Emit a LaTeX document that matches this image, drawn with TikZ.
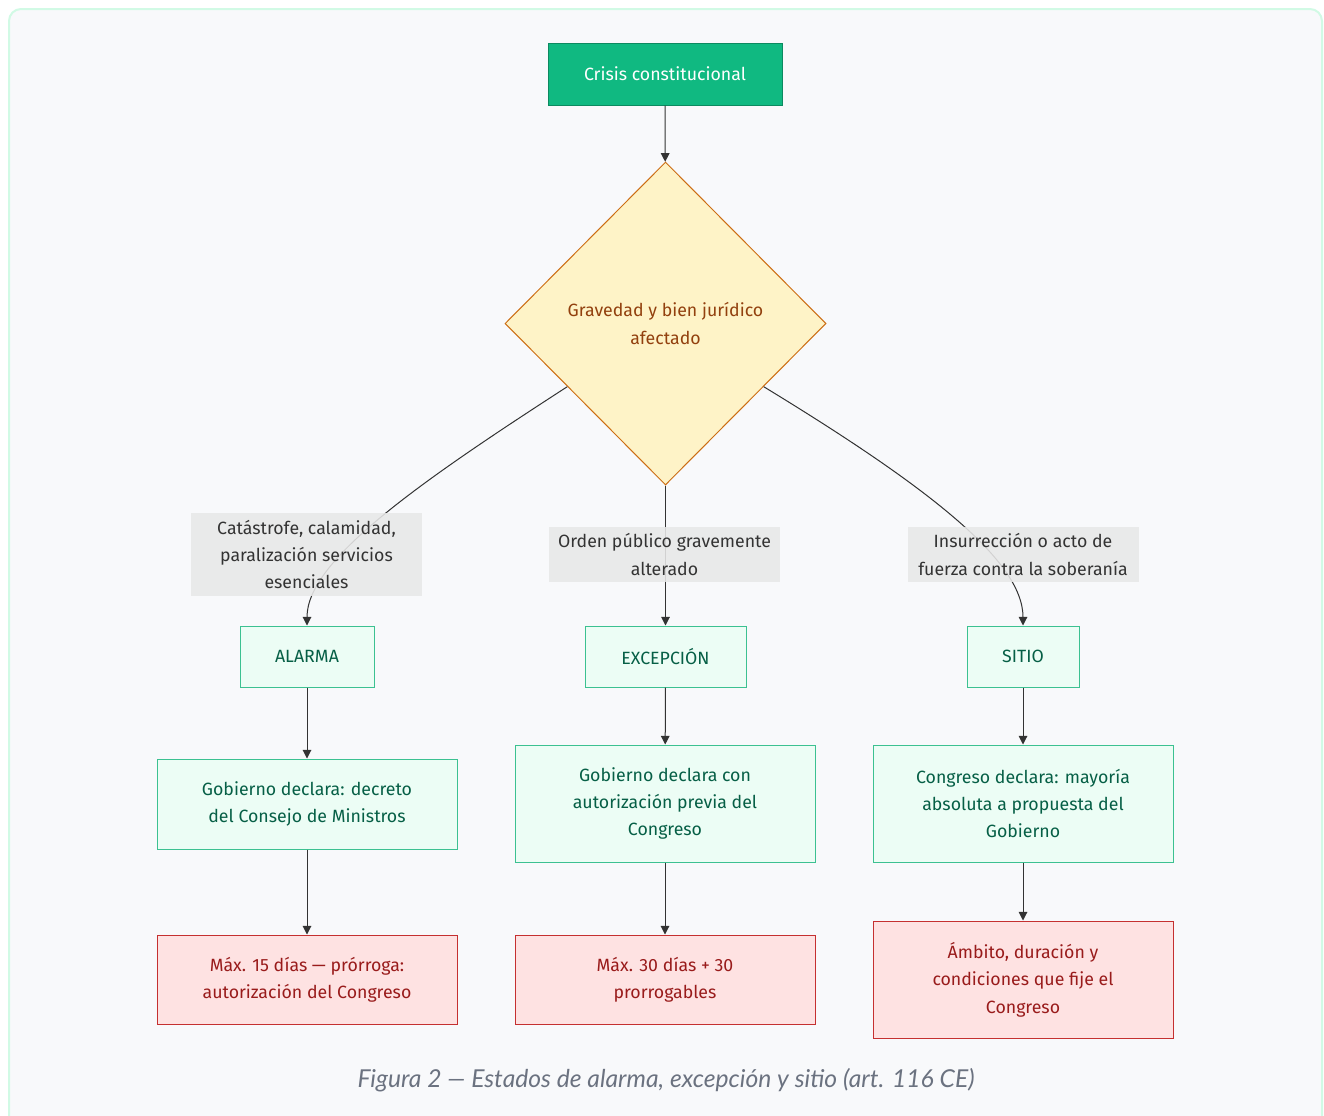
\documentclass[tikz,border=0pt]{standalone}
\usepackage{fontspec}
\setmainfont{Fira Sans}
\newfontfamily\captionfont{Lato}
\usepackage{tikz}
\usetikzlibrary{shapes,arrows.meta,positioning,calc}
\usepackage{xcolor}
\definecolor{panelgray}{RGB}{248,249,251}
\definecolor{framemint}{RGB}{209,250,229}
\definecolor{crisisgreen}{RGB}{16,185,129}
\definecolor{crisisborder}{RGB}{12,138,96}
\definecolor{decisionfill}{RGB}{254,243,199}
\definecolor{decisionborder}{RGB}{204,110,20}
\definecolor{decisiontext}{RGB}{146,64,14}
\definecolor{labelgray}{RGB}{232,232,232}
\definecolor{labeltext}{RGB}{51,51,51}
\definecolor{statefill}{RGB}{236,253,245}
\definecolor{stateborder}{RGB}{60,193,145}
\definecolor{statetext}{RGB}{6,95,70}
\definecolor{limitfill}{RGB}{254,226,226}
\definecolor{limitborder}{RGB}{197,48,48}
\definecolor{limittext}{RGB}{153,27,27}
\definecolor{edgegray}{RGB}{51,51,51}
\definecolor{captiongray}{RGB}{107,114,128}
\tikzset{
    base/.style={rectangle, draw, line width=0.75pt, align=center, inner sep=0pt, font=\fontsize{13.3}{20.5}\selectfont},
    crisis/.style={base, fill=crisisgreen, draw=crisisborder, text=white, minimum width=175.5pt, minimum height=46.5pt},
    decision/.style={diamond, draw=decisionborder, line width=0.75pt, fill=decisionfill, text=decisiontext, align=center, inner sep=0pt, minimum width=240.75pt, minimum height=242.25pt, font=\fontsize{13.3}{20.5}\selectfont},
    cause/.style={rectangle, fill=labelgray, fill opacity=0.88, text opacity=1, text=labeltext, align=center, inner sep=0pt, minimum width=173.25pt, font=\fontsize{13.3}{20.5}\selectfont},
    state/.style={base, fill=statefill, draw=stateborder, text=statetext, minimum height=45.75pt},
    declare/.style={base, fill=statefill, draw=stateborder, text=statetext, minimum width=225pt},
    limit/.style={base, fill=limitfill, draw=limitborder, text=limittext, minimum width=225pt},
    connection/.style={line width=0.75pt, draw=edgegray, -{Triangle[length=6.5pt,width=6.5pt]}}
}

\begin{document}
\begin{tikzpicture}[x=0.75pt,y=-0.75pt]
    \useasboundingbox (0,0) rectangle (1324,1115);
    % panel
    \draw[draw=framemint, fill=panelgray, line width=1.5pt, rounded corners=9pt] (9,9) rectangle (1322,1130);

    % top of the flow
    \node[crisis] (crisis) at (665,74) {Crisis constitucional};
    \node[decision] (gravedad) at (665.5,323.5) {Gravedad y bien jurídico\\afectado};
    \draw[connection] (crisis) -- (gravedad);

    % the three states
    \node[state, minimum width=100.5pt] (alarma) at (307,656.5) {ALARMA};
    \node[state, minimum width=120.75pt] (excepcion) at (665.5,656.5) {EXCEPCIÓN};
    \node[state, minimum width=84pt] (sitio) at (1023,656.5) {SITIO};

    % branches out of the diamond
    \coordinate (gl) at ($(gravedad.west)!0.39!(gravedad.south)$);
    \coordinate (gr) at ($(gravedad.east)!0.39!(gravedad.south)$);
    \draw[connection] (gl) .. controls (420,482) and (307,560) .. (alarma.north);
    \draw[connection] (gravedad.south) -- (excepcion.north);
    \draw[connection] (gr) .. controls (925,485) and (1023,560) .. (sitio.north);

    % branch labels
    \node[cause, minimum height=62.25pt] (catastrofe) at (306.5,554.5) {Catástrofe, calamidad,\\paralización servicios\\esenciales};
    \node[cause, minimum height=41.25pt] (orden) at (664.5,554.5) {Orden público gravemente\\alterado};
    \node[cause, minimum height=41.25pt] (insurreccion) at (1023,554.5) {Insurrección o acto de\\fuerza contra la soberanía};

    % who declares
    \node[declare, minimum height=67.5pt] (decreto) at (307,804) {Gobierno declara: decreto\\del Consejo de Ministros};
    \node[declare, minimum height=87.75pt] (autorizacion) at (665,803.5) {Gobierno declara con\\autorización previa del\\Congreso};
    \node[declare, minimum height=87.75pt] (mayoria) at (1023,803.5) {Congreso declara: mayoría\\absoluta a propuesta del\\Gobierno};
    \draw[connection] (alarma) -- (decreto);
    \draw[connection] (excepcion) -- (autorizacion);
    \draw[connection] (sitio) -- (mayoria);

    % duration limits
    \node[limit, minimum height=66.75pt] (quince) at (307,979.5) {Máx. 15 días — prórroga:\\autorización del Congreso};
    \node[limit, minimum height=66.75pt] (treinta) at (665,979.5) {Máx. 30 días + 30\\prorrogables};
    \node[limit, minimum height=87.75pt] (ambito) at (1023,979.5) {Ámbito, duración y\\condiciones que fije el\\Congreso};
    \draw[connection] (decreto) -- (quince);
    \draw[connection] (autorizacion) -- (treinta);
    \draw[connection] (mayoria) -- (ambito);

    % caption
    \node[text=captiongray, font=\captionfont\itshape\fontsize{18.5}{22}\selectfont] (caption) at (666,1080) {Figura 2 — Estados de alarma, excepción y sitio (art. 116 CE)};
\end{tikzpicture}
\end{document}
